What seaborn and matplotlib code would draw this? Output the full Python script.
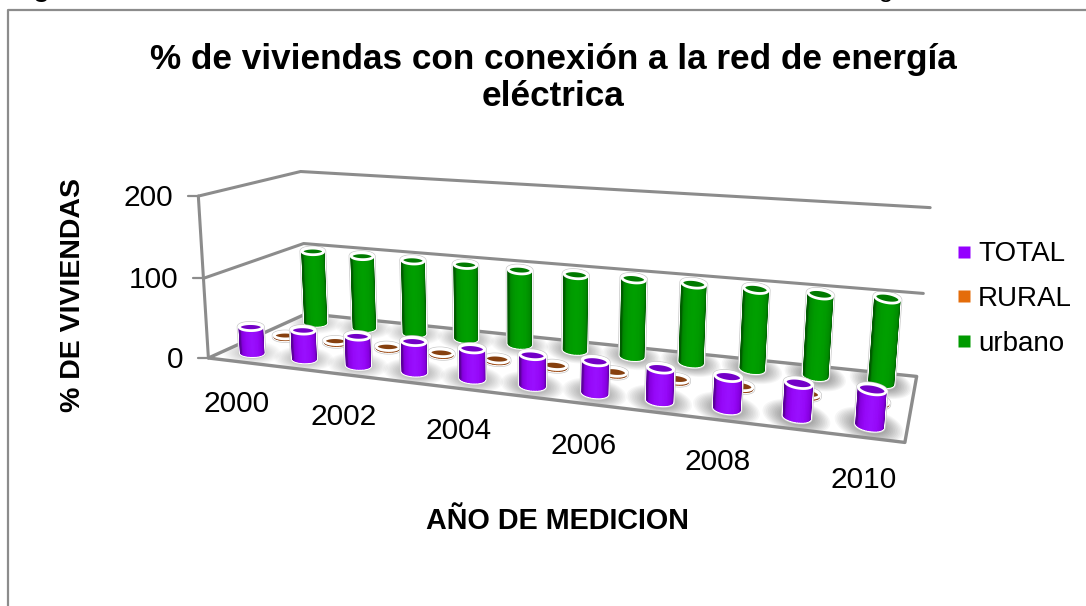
import numpy as np
import seaborn as sns
import matplotlib
matplotlib.use('Agg')
import matplotlib.pyplot as plt
from matplotlib.lines import Line2D
from matplotlib.patches import Polygon

years = [2000, 2001, 2002, 2003, 2004, 2005, 2006, 2007, 2008, 2009, 2010]
total = [33, 36, 36, 37, 36, 36, 37, 37, 36, 37, 39]
rural = [2, 2, 2, 2, 2, 2, 2, 2, 2, 2, 2]
urbano = [99, 98, 98, 98, 97, 97, 98, 98, 98, 98, 100]
series_names = ['TOTAL', 'RURAL', 'urbano']
z_ticks = [0, 100, 200]
year_labels = [2000, 2002, 2004, 2006, 2008, 2010]

sns.set_theme(style='white')
plt.rcParams['font.family'] = ['Liberation Sans', 'DejaVu Sans']
plt.rcParams['text.color'] = 'black'

PURPLE = sns.blend_palette(['#5c009c', '#8600e0', '#9608f8', '#9a10ff', '#9608f8', '#8600e0', '#5c009c'], 24)
ORANGE = sns.blend_palette(['#7a3208', '#a04a10', '#7a3208'], 24)
GREEN = sns.blend_palette(['#005c00', '#008a00', '#009a00', '#00a000', '#009a00', '#008a00', '#005c00'], 24)
GREY = '#8c8c8c'

# camera: corners of the chart box (slot, depth, value) -> where they sit in the picture
world = np.array([[0, 0, 0], [0, 3, 0], [11, 3, 0], [11, 0, 0],
                  [0, 0, 100], [0, 3, 100], [11, 3, 100],
                  [0, 0, 200], [0, 3, 200], [11, 3, 200]], dtype=float)
screen = np.array([[212, 357], [305, 315], [917, 376], [905, 443],
                   [200, 278], [303, 243], [923, 293],
                   [198, 197], [303, 171], [930, 208]], dtype=float)


def fit_camera(w, s):
    a, b = [], []
    for (x, y, z), (u, v) in zip(w, s):
        a.append([x, y, z, 1, 0, 0, 0, 0, -u * x, -u * y, -u * z])
        a.append([0, 0, 0, 0, x, y, z, 1, -v * x, -v * y, -v * z])
        b += [u, v]
    p = np.linalg.lstsq(np.array(a), np.array(b), rcond=None)[0]
    return np.append(p, 1).reshape(3, 4)


CAM = fit_camera(world / [11, 3, 200], screen)


def project(x, y, z):
    x, y, z = np.broadcast_arrays(np.asarray(x, float) / 11, np.asarray(y, float) / 3, np.asarray(z, float) / 200)
    h = CAM @ np.vstack([x.ravel(), y.ravel(), z.ravel(), np.ones(x.size)])
    return np.column_stack([h[0] / h[2], h[1] / h[2]])


def ellipse(slot, depth, z, t):
    cx, cy = project(slot, depth, z)[0]
    frac = slot / 11
    ex = project(slot + 0.225 - 0.045 * frac, depth, z)[0]
    rx = ex[0] - cx
    ry = rx * (0.3 + 0.07 * frac)
    tilt = 0.16 * frac
    return np.column_stack([cx + rx * np.cos(t), cy + ry * np.sin(t) + tilt * rx * np.cos(t)])


def cylinder(ax, slot, depth, value, shades, top_color):
    t = np.linspace(0, np.pi, len(shades) + 1)
    low = ellipse(slot, depth, 0, t)
    high = ellipse(slot, depth, value, t)
    back = ellipse(slot, depth, value, np.linspace(np.pi, 2 * np.pi, 30))
    outline = np.vstack([low, back])
    ax.add_patch(Polygon(outline, closed=True, fc='white', ec='#c8c8c8', lw=3.6, joinstyle='round'))
    ax.add_patch(Polygon(outline, closed=True, fc='white', ec='white', lw=2.6, joinstyle='round'))
    for k, c in enumerate(shades):
        strip = np.vstack([low[k], low[k + 1], high[k + 1], high[k]])
        ax.add_patch(Polygon(strip, closed=True, fc=c, ec=c, lw=1.0))
    cap = ellipse(slot, depth, value, np.linspace(0, 2 * np.pi, 60))
    ax.add_patch(Polygon(cap, closed=True, fc=top_color, ec='white', lw=2.0))


def shadow(ax, slot, depth, clip, strength):
    for s in np.linspace(3.0, 1.0, 14):
        t = np.linspace(0, 2 * np.pi, 50)
        e = ellipse(slot, depth, 0, t)
        c = e.mean(axis=0)
        ring = c + (e - c) * [s * 0.85, s * 1.15]
        p = Polygon(ring, closed=True, fc='black', ec='none', alpha=strength)
        ax.add_patch(p)
        p.set_clip_path(clip)


fig = plt.figure(figsize=(10.86, 6.06), dpi=100)
ax = fig.add_axes([0, 0, 1, 1])
ax.set_xlim(0, 1086)
ax.set_ylim(606, 0)
ax.axis('off')

# chart frame and the caption line cut by the crop
ax.plot([8, 8, 1086], [606, 10, 10], color=GREY, lw=1.6)
ax.text(10, -3, 'Figura', fontsize=19, fontweight='bold', va='baseline', clip_on=True)
ax.text(827, -3, 'energía', fontsize=19, va='baseline', clip_on=True)

# walls
for z in z_ticks[1:]:
    wall = project([0, 0, 11], [0, 3, 3], [z, z, z])
    ax.plot(wall[:, 0], wall[:, 1], color=GREY, lw=2.2, solid_joinstyle='round')
edge = project([0, 0], [0, 0], [0, 200])
ax.plot(edge[:, 0], edge[:, 1], color=GREY, lw=2.2)
for z in z_ticks:
    px, py = project(0, 0, z)[0]
    ax.plot([px - 10, px], [py, py], color=GREY, lw=1.6)
    ax.text(px - 25, py + 2, str(z), fontsize=21.5, ha='right', va='center')

# floor
corners = project([0, 0, 11, 11], [0, 3, 3, 0], [0, 0, 0, 0])
floor = Polygon(corners, closed=True, fc='white', ec='none')
ax.add_patch(floor)
for i in range(len(years)):
    for d in (0.5, 2.5):
        shadow(ax, i + 0.5, d, floor, 0.016 + 0.02 * i / 10)
ax.add_patch(Polygon(corners, closed=True, fc='none', ec=GREY, lw=2.4, joinstyle='round'))

# back to front: urbano, rural, total
for i, v in enumerate(urbano):
    cylinder(ax, i + 0.5, 2.5, v, GREEN, '#007a00')
for i, v in enumerate(rural):
    cylinder(ax, i + 0.5, 1.5, v, ORANGE, '#86400f')
for i, v in enumerate(total):
    cylinder(ax, i + 0.5, 0.5, v, PURPLE, '#7400c8')

for y in year_labels:
    i = years.index(y)
    px, py = project(i + 0.5, 0, 0)[0]
    ax.text(px + 2 - 0.5 * i, py + 42.5, str(y), fontsize=21.5, ha='center', va='center')

ax.text(553, 78, '% de viviendas con conexión a la red de energía\neléctrica', fontsize=25.3,
        fontweight='bold', ha='center', va='center', linespacing=1.12)
ax.text(73, 295, '% DE VIVIENDAS', fontsize=20.5, fontweight='bold', rotation=90, ha='center', va='center')
ax.text(558, 521, 'AÑO DE MEDICION', fontsize=20.7, fontweight='bold', ha='center', va='center')

handles = [Line2D([], [], ls='none', marker='s', ms=8, mfc=c, mec='none')
           for c in ['#9400ff', '#e46c0a', '#009a00']]
ax.legend(handles, series_names, loc='center left', bbox_to_anchor=(953 / 1086, 1 - 299 / 606),
          frameon=False, fontsize=20, labelspacing=0.67, handlelength=0.8, handletextpad=0.1,
          borderpad=0, borderaxespad=0)

fig.savefig('out.png', dpi=100)
